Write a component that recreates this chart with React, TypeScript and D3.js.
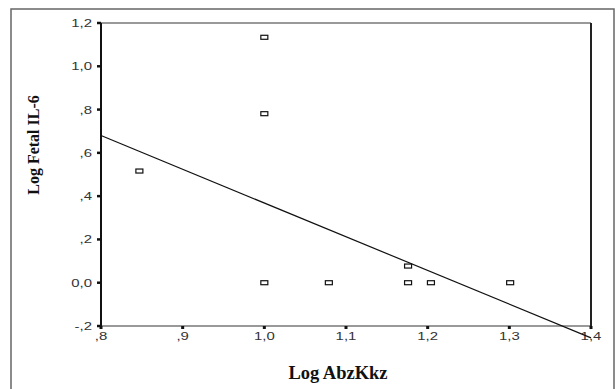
import { useEffect, useRef } from 'react';
import * as d3 from 'd3';

// Log AbzKkz vs Log Fetal IL-6 scatter
const pointX = [0.847, 1.0, 1.0, 1.0, 1.079, 1.176, 1.176, 1.204, 1.301];
const pointY = [0.516, 1.134, 0.781, 0.0, 0.0, 0.077, 0.0, 0.0, 0.0];

// fitted line end points
const fitX = [0.8, 1.4];
const fitY = [0.68, -0.255];

const xTicks = [0.8, 0.9, 1.0, 1.1, 1.2, 1.3, 1.4];
const xTickLabels = [',8', ',9', '1,0', '1,1', '1,2', '1,3', '1,4'];
const yTicks = [-0.2, 0.0, 0.2, 0.4, 0.6, 0.8, 1.0, 1.2];
const yTickLabels = ['-,2', '0,0', ',2', ',4', ',6', ',8', '1,0', '1,2'];

const xTitle = 'Log AbzKkz';
const yTitle = 'Log Fetal IL-6';

export default function App() {
  const ref = useRef<SVGSVGElement>(null);

  useEffect(() => {
    if (!ref.current) return;
    const svg = d3.select(ref.current);
    svg.selectAll('*').remove();

    const width = 616;
    const height = 389;
    const plot = { left: 101, top: 23, right: 591, bottom: 326 };

    const x = d3.scaleLinear().domain([0.8, 1.4]).range([plot.left, plot.right]);
    const y = d3.scaleLinear().domain([-0.2, 1.2]).range([plot.bottom, plot.top]);

    svg.append('rect').attr('width', width).attr('height', height).attr('fill', '#fff');

    // outer frame
    svg.append('rect')
      .attr('x', 11).attr('y', 9)
      .attr('width', 603).attr('height', 395)
      .attr('fill', 'none')
      .attr('stroke', '#666')
      .attr('stroke-width', 1.5);

    // plot frame
    svg.append('line')
      .attr('x1', plot.left).attr('x2', plot.right)
      .attr('y1', plot.top).attr('y2', plot.top)
      .attr('stroke', '#777').attr('stroke-width', 1.5);
    svg.append('line')
      .attr('x1', plot.left).attr('x2', plot.right)
      .attr('y1', plot.bottom).attr('y2', plot.bottom)
      .attr('stroke', '#777').attr('stroke-width', 1.5);
    svg.append('line')
      .attr('x1', plot.left).attr('x2', plot.left)
      .attr('y1', plot.top).attr('y2', plot.bottom)
      .attr('stroke', '#111').attr('stroke-width', 2);
    svg.append('line')
      .attr('x1', plot.right).attr('x2', plot.right)
      .attr('y1', plot.top).attr('y2', plot.bottom)
      .attr('stroke', '#222').attr('stroke-width', 2);

    const tickFont = 'Arial, "Liberation Sans", sans-serif';
    // tick glyphs in the reference are horizontally stretched
    const stretch = 1.3;

    // y ticks + labels
    const yAxis = svg.append('g');
    yTicks.forEach((t, i) => {
      yAxis.append('line')
        .attr('x1', plot.left - 4).attr('x2', plot.left)
        .attr('y1', y(t)).attr('y2', y(t))
        .attr('stroke', '#111').attr('stroke-width', 2.5);
      yAxis.append('text')
        .attr('transform', `translate(${plot.left - 9},${y(t) + 4}) scale(${stretch},1)`)
        .attr('text-anchor', 'end')
        .attr('font-family', tickFont)
        .attr('font-size', 11.5)
        .attr('fill', '#333')
        .text(yTickLabels[i]);
    });

    // x ticks + labels
    const xAxis = svg.append('g');
    xTicks.forEach((t, i) => {
      xAxis.append('line')
        .attr('x1', x(t)).attr('x2', x(t))
        .attr('y1', plot.bottom).attr('y2', plot.bottom + 3)
        .attr('stroke', '#111').attr('stroke-width', 3);
      xAxis.append('text')
        .attr('transform', `translate(${x(t)},${plot.bottom + 14}) scale(${stretch},1)`)
        .attr('text-anchor', 'middle')
        .attr('font-family', tickFont)
        .attr('font-size', 11.5)
        .attr('fill', '#333')
        .text(xTickLabels[i]);
    });

    // fit line
    const line = d3.line<number>()
      .x((d) => x(fitX[d]))
      .y((d) => y(fitY[d]));
    svg.append('path')
      .attr('d', line([0, 1]))
      .attr('fill', 'none')
      .attr('stroke', '#111')
      .attr('stroke-width', 1.2);

    // points
    svg.append('g')
      .selectAll('rect')
      .data(pointX.map((v, i) => [v, pointY[i]]))
      .enter()
      .append('rect')
      .attr('x', (d) => x(d[0]) - 3.5)
      .attr('y', (d) => y(d[1]) - 2)
      .attr('width', 7)
      .attr('height', 4)
      .attr('fill', '#fff')
      .attr('stroke', '#111')
      .attr('stroke-width', 1.2);

    // axis titles
    svg.append('text')
      .attr('x', 338)
      .attr('y', 379)
      .attr('text-anchor', 'middle')
      .attr('font-family', '"Liberation Serif", "Times New Roman", serif')
      .attr('font-weight', 'bold')
      .attr('font-size', 18.5)
      .attr('fill', '#111')
      .text(xTitle);

    svg.append('text')
      .attr('transform', 'translate(39,145) rotate(-90)')
      .attr('text-anchor', 'middle')
      .attr('font-family', '"Liberation Serif", "Times New Roman", serif')
      .attr('font-weight', 'bold')
      .attr('font-size', 16)
      .attr('fill', '#111')
      .text(yTitle);
  }, []);

  return (
    <svg
      ref={ref}
      width={616}
      height={389}
      style={{ position: 'absolute', left: 0, top: 0, display: 'block' }}
    />
  );
}
